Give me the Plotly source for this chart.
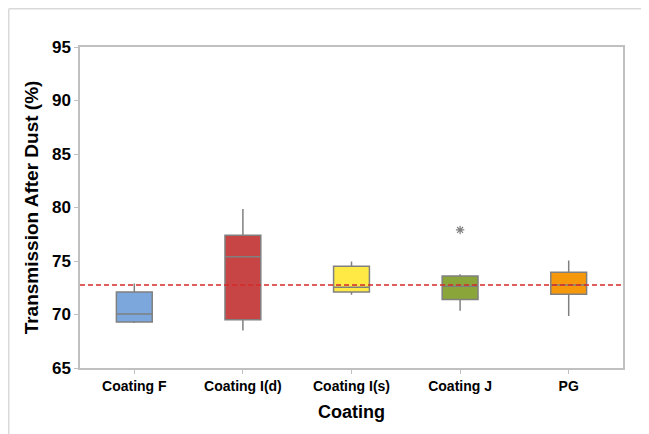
import plotly.graph_objects as go

categories = ["Coating F", "Coating I(d)", "Coating I(s)", "Coating J", "PG"]
q1 = [69.3, 69.5, 72.1, 71.4, 71.9]
medians = [70.05, 75.4, 72.55, 72.65, 72.75]
q3 = [72.1, 77.4, 74.5, 73.6, 73.95]
lower_whisker = [69.2, 68.5, 71.85, 70.35, 69.85]
upper_whisker = [72.9, 79.85, 74.95, 73.75, 75.05]
colors = ["#7BA7DC", "#C84545", "#FFEA45", "#8AA53A", "#F5980C"]
outlier_cat = ["Coating J"]
outlier_val = [77.9]
reference_value = 72.75
y_ticks = [65, 70, 75, 80, 85, 90, 95]

W, H = 641, 426
L, R, T, B = 72, 26, 39, 66
pw, ph = W - L - R, H - T - B

fig = go.Figure()
for i, c in enumerate(categories):
    fig.add_trace(go.Box(
        x=[c], q1=[q1[i]], median=[medians[i]], q3=[q3[i]],
        lowerfence=[lower_whisker[i]], upperfence=[upper_whisker[i]],
        fillcolor=colors[i], line=dict(color="#808080", width=1.5),
        whiskerwidth=0, width=0.33, boxpoints=False, showlegend=False,
        hoverinfo="skip",
    ))

fig.add_trace(go.Scatter(
    x=outlier_cat, y=outlier_val, mode="markers",
    marker=dict(symbol="asterisk-open", size=7, color="#808080",
                line=dict(color="#808080", width=1.2)),
    showlegend=False, hoverinfo="skip",
))

fig.add_shape(type="line", xref="paper", yref="y", x0=0, x1=1,
              y0=reference_value, y1=reference_value,
              line=dict(color="#D42A2A", width=1.5, dash="5px,3px"))

# outer figure frame lines (top and left)
fx = (0.75 - L) / pw
fy = 1 + (T - 0.75) / ph
fig.add_shape(type="line", xref="paper", yref="paper", x0=fx, x1=1.2,
              y0=fy, y1=fy, line=dict(color="#D9D9D9", width=1.5))
fig.add_shape(type="line", xref="paper", yref="paper", x0=fx, x1=fx,
              y0=fy, y1=-0.4, line=dict(color="#D9D9D9", width=1.5))

font_family = "Liberation Sans, Arial, sans-serif"
fig.update_layout(
    width=W, height=H,
    margin=dict(l=L, r=R, t=T, b=B),
    paper_bgcolor="white", plot_bgcolor="white",
    font=dict(family=font_family, color="black"),
    boxmode="overlay",
    xaxis=dict(
        categoryorder="array", categoryarray=categories,
        range=[-0.5, 4.5], showgrid=False, zeroline=False,
        showline=True, linecolor="#C0C0C0", linewidth=1.5, mirror=True,
        ticks="outside", ticklen=4, tickcolor="#C0C0C0",
        tickfont=dict(size=14, family=font_family, weight="bold"),
        title=dict(text="<b>Coating</b>", font=dict(size=18), standoff=13),
    ),
    yaxis=dict(
        range=[65, 95], tickvals=y_ticks, showgrid=False, zeroline=False,
        showline=True, linecolor="#C0C0C0", linewidth=1.5, mirror=True,
        ticks="outside", ticklen=4, tickcolor="#C0C0C0",
        tickfont=dict(size=17, family=font_family, weight="bold"),
        title=dict(text="<b>Transmission After Dust (%)</b>", font=dict(size=19), standoff=8),
    ),
)

fig.write_html("out.html")
